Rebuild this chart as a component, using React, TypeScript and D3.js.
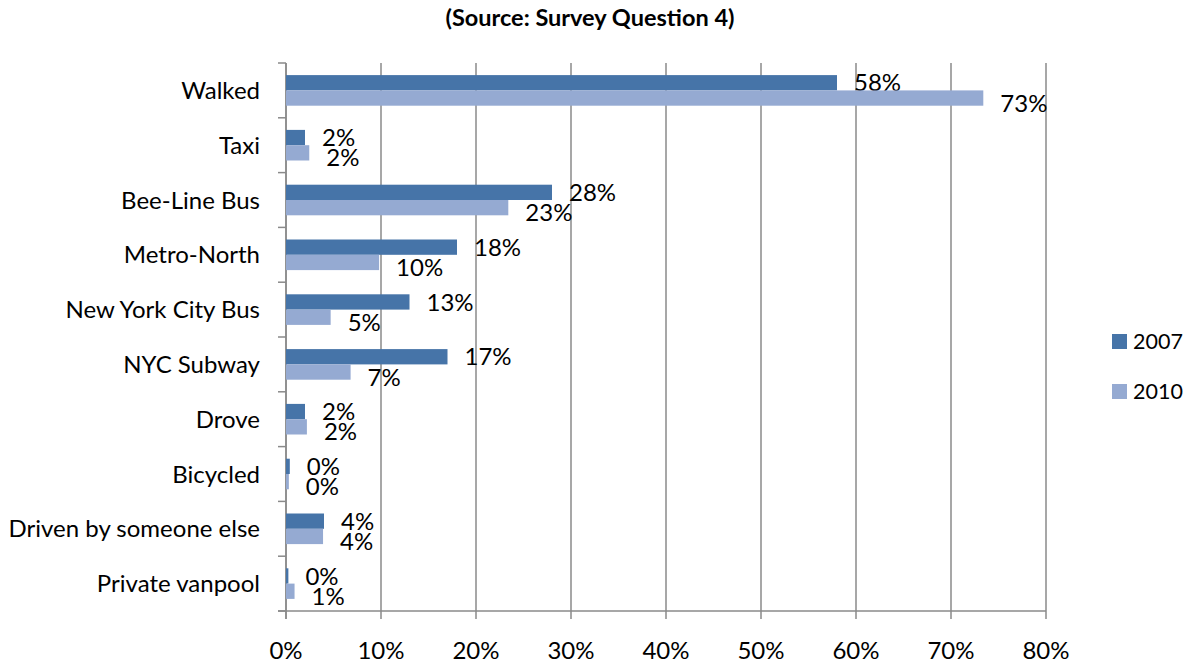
import React from "react";
import * as d3 from "d3";

const categories = [
  "Walked",
  "Taxi",
  "Bee-Line Bus",
  "Metro-North",
  "New York City Bus",
  "NYC Subway",
  "Drove",
  "Bicycled",
  "Driven by someone else",
  "Private vanpool",
];
const series2007 = [58.0, 2.0, 28.0, 18.0, 13.0, 17.0, 2.0, 0.4, 4.0, 0.25];
const series2010 = [73.4, 2.45, 23.4, 9.8, 4.7, 6.8, 2.2, 0.3, 3.9, 0.9];
const xTicks = [0, 10, 20, 30, 40, 50, 60, 70, 80];
const seriesNames = ["2007", "2010"];
const colors = ["#4674A8", "#95AAD2"];
const title = "(Source: Survey Question 4)";

const W = 1186;
const H = 667;
const FONT = "Lato, 'Open Sans', sans-serif";
const FS = 24;

export default function App() {
  const left = 286;
  const right = 1046;
  const top = 63;
  const bottom = 611;
  const x = d3.scaleLinear().domain([0, 80]).range([left, right]);
  const y = d3
    .scaleBand<string>()
    .domain(categories)
    .range([top, bottom])
    .paddingInner(0.44)
    .paddingOuter(0.22);
  const step = y.step();
  const barH = 15.3;
  const fmt = (v: number) => `${Math.round(v)}%`;
  const series = [series2007, series2010];

  return (
    <svg
      width={W}
      height={H}
      style={{ position: "absolute", left: 0, top: 0, background: "#fff" }}
      fontFamily={FONT}
    >
      <text
        x={590}
        y={26}
        textAnchor="middle"
        fontWeight="bold"
        fontSize={23.5}
        fill="#000"
      >
        {title}
      </text>
      {xTicks.map((t) => (
        <line
          key={"g" + t}
          x1={x(t)}
          x2={x(t)}
          y1={top}
          y2={bottom + 8}
          stroke="#8a8a8a"
          strokeWidth={1.5}
        />
      ))}
      <line x1={left - 8} x2={right} y1={bottom} y2={bottom} stroke="#8a8a8a" strokeWidth={1.5} />
      <line x1={left} x2={left} y1={top} y2={bottom + 8} stroke="#8a8a8a" strokeWidth={1.5} />
      {d3.range(categories.length + 1).map((i) => (
        <line
          key={"yt" + i}
          x1={left - 8}
          x2={left}
          y1={top + i * step}
          y2={top + i * step}
          stroke="#8a8a8a"
          strokeWidth={1.5}
        />
      ))}
      {xTicks.map((t) => (
        <text
          key={"xl" + t}
          x={x(t)}
          y={659}
          textAnchor="middle"
          fontSize={FS}
          fill="#000"
        >
          {t + "%"}
        </text>
      ))}
      {categories.map((c, i) => {
        const center = top + (i + 0.5) * step;
        return (
          <g key={c}>
            <text
              x={260}
              y={center}
              dy="0.36em"
              textAnchor="end"
              fontSize={FS}
              fill="#000"
            >
              {c}
            </text>
            {series.map((s, k) => {
              const y0 = center - barH + k * barH;
              return (
                <g key={k}>
                  <rect
                    x={x(0)}
                    y={y0}
                    width={x(s[i]) - x(0)}
                    height={barH}
                    fill={colors[k]}
                  />
                  <text
                    x={x(s[i]) + 17}
                    y={y0 + barH / 2 + (k === 0 ? 0 : 5)}
                    dy="0.36em"
                    fontSize={FS}
                    fill="#000"
                  >
                    {fmt(s[i])}
                  </text>
                </g>
              );
            })}
          </g>
        );
      })}
      {seriesNames.map((n, k) => (
        <g key={n}>
          <rect x={1112} y={334 + k * 50} width={15} height={15} fill={colors[k]} />
          <text x={1133} y={349 + k * 50} fontSize={21.5} fill="#000">
            {n}
          </text>
        </g>
      ))}
    </svg>
  );
}
